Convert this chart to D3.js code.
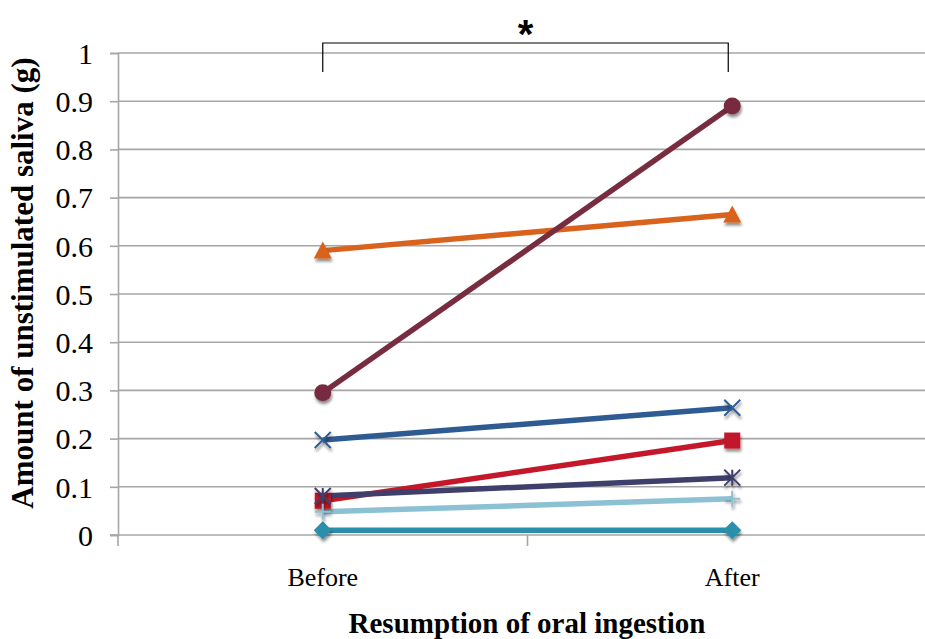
<!DOCTYPE html>
<html><head><meta charset="utf-8">
<script src="https://cdn.jsdelivr.net/npm/d3@7/dist/d3.min.js"></script>
<style>body{margin:0;background:#fff;}svg{display:block;}</style>
</head><body>
<svg id="c" width="925" height="639"></svg>
<script>
const categories = ["Before", "After"];
const yTicks = [0, 0.1, 0.2, 0.3, 0.4, 0.5, 0.6, 0.7, 0.8, 0.9, 1];
const yTickLabels = ["0", "0.1", "0.2", "0.3", "0.4", "0.5", "0.6", "0.7", "0.8", "0.9", "1"];
const s1 = [0.010, 0.010];   // diamond
const s2 = [0.071, 0.196];   // square
const s3 = [0.590, 0.665];   // triangle
const s4 = [0.197, 0.264];   // x
const s5 = [0.081, 0.119];   // star
const s6 = [0.295, 0.890];   // circle
const s7 = [0.048, 0.075];   // plus
const seriesValues = [s1, s2, s3, s4, s5, s6, s7];
const seriesColors = ["#2A8FAA", "#C4182A", "#D9621C", "#2F5B93", "#3F3F6B", "#772C40", "#8CC1D4"];
const seriesMarkers = ["diamond", "square", "triangle", "x", "star", "circle", "plus"];
const yTitle = "Amount of unstimulated saliva (g)";
const xTitle = "Resumption of oral ingestion";
const sigLabel = "*";

const SERIF = "'Liberation Serif', 'Times New Roman', serif";
const svg = d3.select("#c");
const pLeft = 118, pRight = 937, pTop = 53, pBottom = 535;
const x = d3.scaleBand().domain(categories).range([pLeft, pRight]).padding(0);
const y = d3.scaleLinear().domain([0, 1]).range([pBottom, pTop]);
const cx = c => x(c) + x.bandwidth() / 2;

const defs = svg.append("defs");
const f = defs.append("filter").attr("id", "sh").attr("x", "-50%").attr("y", "-50%").attr("width", "200%").attr("height", "200%");
f.append("feGaussianBlur").attr("in", "SourceAlpha").attr("stdDeviation", 1.6).attr("result", "b");
f.append("feOffset").attr("in", "b").attr("dx", 1).attr("dy", 2.5).attr("result", "o");
f.append("feComponentTransfer").attr("in", "o").attr("result", "o2").append("feFuncA").attr("type", "linear").attr("slope", 0.45);
const fm = f.append("feMerge");
fm.append("feMergeNode").attr("in", "o2");
fm.append("feMergeNode").attr("in", "SourceGraphic");

// gridlines
svg.append("g").selectAll("line").data(yTicks.filter(d => d > 0)).join("line")
  .attr("x1", pLeft).attr("x2", 925).attr("y1", d => y(d)).attr("y2", d => y(d))
  .attr("stroke", "#A6A6A6").attr("stroke-width", 1.6);

// y axis
const yAxis = d3.axisLeft(y).tickValues(yTicks).tickFormat((d, i) => yTickLabels[i]).tickSize(8).tickPadding(17);
const gy = svg.append("g").attr("transform", `translate(${pLeft},0)`).call(yAxis);
gy.attr("font-family", null).attr("font-size", null);
gy.select(".domain").attr("stroke", "#A6A6A6").attr("stroke-width", 1.6);
gy.selectAll(".tick line").attr("stroke", "#A6A6A6").attr("stroke-width", 1.6);
gy.selectAll(".tick text").style("font-family", SERIF).style("font-size", "30px").attr("fill", "#000").attr("dy", "0.34em");

// x axis
const gx = svg.append("g").attr("transform", `translate(0,${pBottom})`);
gx.append("line").attr("x1", pLeft - 8).attr("x2", 925).attr("y1", 0).attr("y2", 0).attr("stroke", "#A6A6A6").attr("stroke-width", 1.6);
const bounds = categories.map(c => x(c));
gx.selectAll("line.tk").data(bounds).join("line").attr("class", "tk")
  .attr("x1", d => d).attr("x2", d => d).attr("y1", 0).attr("y2", 11)
  .attr("stroke", "#A6A6A6").attr("stroke-width", 1.6);
gx.selectAll("text").data(categories).join("text")
  .attr("x", d => cx(d)).attr("y", 51).attr("text-anchor", "middle")
  .style("font-family", SERIF).style("font-size", "26px").text(d => d);

// titles
svg.append("text").attr("transform", `translate(33,283) rotate(-90)`).attr("text-anchor", "middle")
  .style("font-family", SERIF).style("font-weight", "bold").style("font-size", "31px").text(yTitle);
svg.append("text").attr("x", 527).attr("y", 633).attr("text-anchor", "middle")
  .style("font-family", SERIF).style("font-weight", "bold").style("font-size", "29px").text(xTitle);

// series lines
const line = d3.line().x((d, i) => cx(categories[i])).y(d => y(d));
const sg = svg.append("g");
seriesValues.forEach((vals, k) => {
  sg.append("path").datum(vals).attr("d", line).attr("fill", "none")
    .attr("stroke", seriesColors[k]).attr("stroke-width", 5.5);
});
// markers
function marker(g, type, px, py, col) {
  const m = g.append("g").attr("transform", `translate(${px},${py})`).attr("filter", "url(#sh)");
  const r = 8;
  if (type === "diamond") m.append("path").attr("d", `M0,${-r-1}L${r+1},0L0,${r+1}L${-r-1},0Z`).attr("fill", col);
  else if (type === "square") m.append("rect").attr("x", -r).attr("y", -r).attr("width", 2*r).attr("height", 2*r).attr("fill", col);
  else if (type === "triangle") m.append("path").attr("d", `M0,${-r-1}L${r+1},${r}L${-r-1},${r}Z`).attr("fill", col);
  else if (type === "circle") m.append("circle").attr("r", r + 0.5).attr("fill", col);
  else if (type === "x") m.append("path").attr("d", `M${-r},${-r}L${r},${r}M${-r},${r}L${r},${-r}`).attr("stroke", col).attr("stroke-width", 2).attr("fill", "none");
  else if (type === "star") m.append("path").attr("d", `M${-r},${-r}L${r},${r}M${-r},${r}L${r},${-r}M0,${-r}L0,${r}`).attr("stroke", col).attr("stroke-width", 2).attr("fill", "none");
  else if (type === "plus") m.append("path").attr("d", `M0,${-r}L0,${r}M${-r},0L${r},0`).attr("stroke", col).attr("stroke-width", 2).attr("fill", "none");
}
const mg = svg.append("g");
seriesValues.forEach((vals, k) => {
  vals.forEach((v, i) => marker(mg, seriesMarkers[k], cx(categories[i]), y(v), seriesColors[k]));
});

// significance bracket
const bx1 = cx(categories[0]), bx2 = cx(categories[1]) - 4;
svg.append("path").attr("d", `M${bx1},72V43H${bx2}V72`).attr("fill", "none").attr("stroke", "#000").attr("stroke-width", 1.2);
svg.append("text").attr("x", (bx1 + bx2) / 2).attr("y", 48).attr("text-anchor", "middle")
  .style("font-family", "'Liberation Sans', Arial, sans-serif").style("font-weight", "bold").style("font-size", "40px").text(sigLabel);
</script>
</body></html>
